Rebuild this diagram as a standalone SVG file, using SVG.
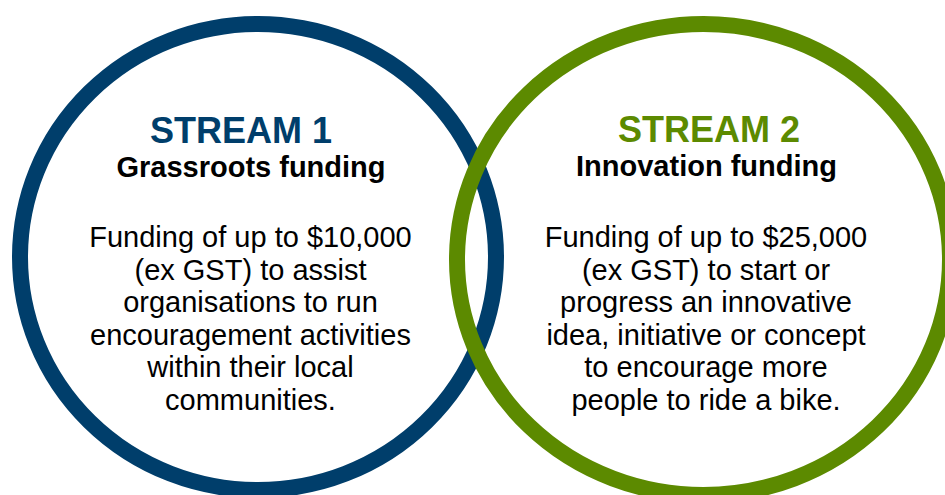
<svg xmlns="http://www.w3.org/2000/svg" width="945" height="495" viewBox="0 0 945 495">
<style>
.ring{fill:none;stroke-width:16}
.blue{stroke:#003E6B}
.green{stroke:#5C8A00}
.title{font-family:"Liberation Sans",Arial,sans-serif;font-weight:bold;font-size:36px;text-anchor:middle}
.sub{font-family:"Liberation Sans",Arial,sans-serif;font-weight:bold;font-size:29px;text-anchor:middle;fill:#000}
.body{font-family:"Liberation Sans",Arial,sans-serif;font-size:29px;text-anchor:middle;fill:#000}
</style>
<rect width="945" height="495" fill="#fff"/>
<g id="stream1">
<ellipse class="ring blue" cx="258" cy="257" rx="238" ry="233"/>
<text class="title" x="241" y="143" fill="#003E6B">STREAM 1</text>
<text class="sub" x="251" y="177">Grassroots funding</text>
<text class="body" x="250.5" y="247">Funding of up to $10,000</text>
<text class="body" x="250.5" y="279.5">(ex GST) to assist</text>
<text class="body" x="250.5" y="312">organisations to run</text>
<text class="body" x="250.5" y="344.5">encouragement activities</text>
<text class="body" x="250.5" y="377">within their local</text>
<text class="body" x="250.5" y="409.5">communities.</text>
</g>
<g id="stream2">
<ellipse class="ring green" cx="703.5" cy="259.5" rx="246.5" ry="235.5"/>
<text class="title" x="709" y="142" fill="#5C8A00">STREAM 2</text>
<text class="sub" x="706.5" y="176">Innovation funding</text>
<text class="body" x="706" y="247">Funding of up to $25,000</text>
<text class="body" x="706" y="279.5">(ex GST) to start or</text>
<text class="body" x="706" y="312">progress an innovative</text>
<text class="body" x="706" y="344.5">idea, initiative or concept</text>
<text class="body" x="706" y="377">to encourage more</text>
<text class="body" x="706" y="409.5">people to ride a bike.</text>
</g>
<g id="connectors"></g>
</svg>
